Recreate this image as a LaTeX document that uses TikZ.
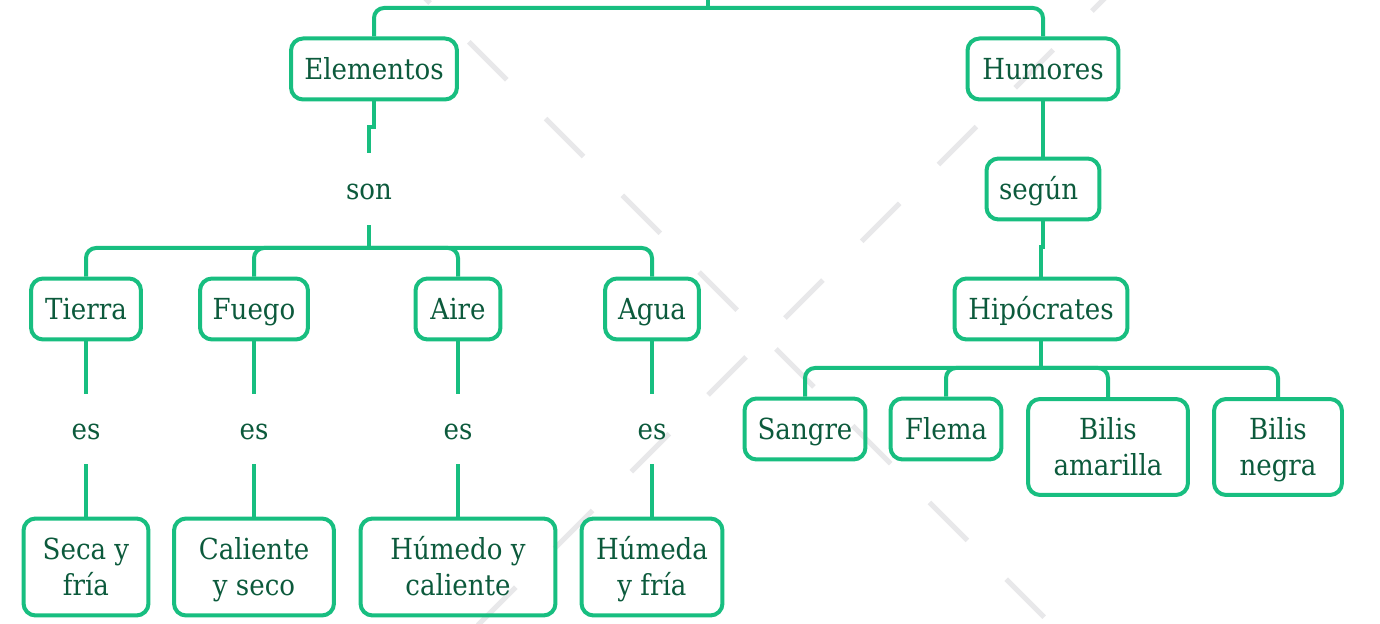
\documentclass[tikz,border=0pt]{standalone}
\usepackage{fontspec}
\setmainfont{DejaVu Serif}[FakeStretch=0.9]
\definecolor{mapgreen}{RGB}{24,190,128}
\definecolor{textgreen}{RGB}{12,90,60}
\definecolor{dashgray}{RGB}{232,232,234}
\begin{document}
\begin{tikzpicture}[x=0.02cm,y=-0.02cm,
        box/.style={draw=mapgreen, line width=0.08cm, rounded corners=0.24cm, text=textgreen, align=center, inner sep=0pt, font=\fontsize{16.5}{20.4}\selectfont},
        onebox/.style={box, minimum height=1.22cm, text height=12pt, text depth=0pt},
        twobox/.style={box, minimum height=1.94cm, text height=32.4pt, text depth=0pt},
        word/.style={text=textgreen, inner sep=0pt, text height=12pt, text depth=0pt, font=\fontsize{16.5}{20.4}\selectfont},
        link/.style={mapgreen, line width=0.08cm},
        fork/.style={link, rounded corners=0.2cm}]
        \useasboundingbox (0,0) rectangle (1380,624);
        \draw[dashgray, line width=0.1cm, dash pattern=on 30.6pt off 31.2pt] (392,-35) -- (1100,673);
        \draw[dashgray, line width=0.1cm, dash pattern=on 30.6pt off 31.2pt] (1130,-27) -- (430,673);
        \node[onebox, minimum width=3.32cm] (elem) at (374,69) {Elementos};
        \node[onebox, minimum width=3.02cm] (humo) at (1043,69) {Humores};
        \node[word, minimum height=1.44cm] (son) at (369,189) {son};
        \node[onebox, minimum width=2.2cm] (tier) at (86,309) {Tierra};
        \node[onebox, minimum width=2.16cm] (fueg) at (254,309) {Fuego};
        \node[onebox, minimum width=1.7cm] (aire) at (458,309) {Aire};
        \node[onebox, minimum width=1.88cm] (agua) at (652,309) {Agua};
        \foreach \n/\x in {esa/86,esb/254,esc/458,esd/652}
        \node[word, minimum height=1.4cm] (\n) at (\x,429) {es};
        \node[twobox, minimum width=2.5cm] (seca) at (86,567) {Seca y\\fría};
        \node[twobox, minimum width=3.2cm] (cali) at (254,567) {Caliente\\y seco};
        \node[twobox, minimum width=3.9cm] (hmdo) at (458,567) {Húmedo y\\caliente};
        \node[twobox, minimum width=2.82cm] (hmda) at (652,567) {Húmeda\\y fría};
        \node[onebox, minimum width=2.26cm] (segun) at (1043,189) {según\hspace{5pt}};
        \node[onebox, minimum width=3.46cm] (hipo) at (1041,309) {Hipócrates};
        \node[onebox, minimum width=2.42cm] (sang) at (805,429) {Sangre};
        \node[onebox, minimum width=2.22cm] (flem) at (946,429) {Flema};
        \node[twobox, minimum width=3.2cm, minimum height=1.92cm] (bama) at (1108,447) {Bilis\\amarilla};
        \node[twobox, minimum width=2.56cm, minimum height=1.92cm] (bneg) at (1278,447) {Bilis\\negra};
        \coordinate (top) at (708,-10);
        \coordinate (forka) at (708,8);
        \coordinate (forkb) at (369,248);
        \coordinate (forkc) at (1041,368);
        \draw[link] (top) -- (forka);
        \draw[fork] (forka) -| (elem.north);
        \draw[fork] (forka) -| (humo.north);
        \draw[link] (elem.south) -- ++(0,26) -| (son.north);
        \draw[link] (son.south) -- (forkb);
        \foreach \n in {tier,fueg,aire,agua}
        \draw[fork] (forkb) -| (\n.north);
        \foreach \a/\b/\c in {tier/esa/seca,fueg/esb/cali,aire/esc/hmdo,agua/esd/hmda}
        \draw[link] (\a.south) -- (\b.north) (\b.south) -- (\c.north);
        \draw[link] (humo.south) -- (segun.north);
        \draw[link] (segun.south) -- ++(0,26) -| (hipo.north);
        \draw[link] (hipo.south) -- (forkc);
        \foreach \n in {sang,flem,bama,bneg}
        \draw[fork] (forkc) -| (\n.north);
\end{tikzpicture}
\end{document}
